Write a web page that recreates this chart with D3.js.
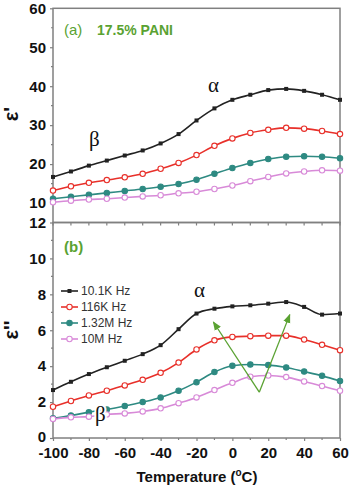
<!DOCTYPE html>
<html><head><meta charset="utf-8">
<script src="https://cdn.jsdelivr.net/npm/d3@7"></script>
<style>body{margin:0;background:#fff}svg{display:block}</style>
</head><body>
<svg id="c" width="350" height="488"></svg>
<script>
const temps = [-100,-90,-80,-70,-60,-50,-40,-30,-20,-10,0,10,20,30,40,50,60];
const seriesNames = ["10.1K Hz","116K Hz","1.32M Hz","10M Hz"];
// panel (a) epsilon'
const epsR_10k  = [16.7,18.1,19.6,20.9,22.2,23.5,25.3,27.7,31.2,34.3,36.5,37.8,39.0,39.3,38.8,37.8,36.5];
const epsR_116k = [13.2,14.3,15.2,15.9,16.6,17.5,18.8,20.3,22.3,24.7,26.6,28.0,28.8,29.3,29.1,28.5,27.7];
const epsR_132M = [11.1,11.6,12.1,12.6,13.1,13.6,14.2,14.9,16.0,17.5,19.0,20.3,21.3,21.9,22.0,21.9,21.5];
const epsR_10M  = [10.2,10.6,10.9,11.1,11.4,11.7,12.0,12.5,12.9,13.6,14.5,15.6,16.7,17.6,18.1,18.4,18.3];
// panel (b) epsilon''
const epsI_10k  = [2.67,3.13,3.56,3.94,4.30,4.67,5.17,6.06,6.93,7.20,7.33,7.39,7.48,7.57,7.30,6.87,6.93];
const epsI_116k = [1.74,2.06,2.37,2.63,2.93,3.24,3.63,4.20,4.93,5.44,5.63,5.67,5.70,5.70,5.48,5.19,4.89];
const epsI_132M = [1.10,1.25,1.44,1.59,1.78,2.00,2.26,2.63,3.11,3.67,4.02,4.09,4.06,3.93,3.70,3.46,3.17];
const epsI_10M  = [1.06,1.15,1.19,1.31,1.37,1.48,1.65,1.94,2.26,2.67,3.07,3.41,3.48,3.39,3.15,2.89,2.63];
const xTicks = [-100,-80,-60,-40,-20,0,20,40,60];
const yTicksA = [10,20,30,40,50,60];
const yTicksB = [0,2,4,6,8,10,12];
// arrows (temperature, eps'')
const arrowBase = [15,2.55];
const arrowTips = [[-10.6,6.46],[32,6.87]];

const colors = ["#222222","#e8302a","#2e8a82","#d88ad8"];
const styles = [
  {shape:"square", fill:"#222"},
  {shape:"circle", fill:"#fff"},
  {shape:"circle", fill:"#2e8a82"},
  {shape:"circle", fill:"#fff"}
];

const svg = d3.select("#c");
const L = 53, R = 340, TA = 8.3, MID = 222.5, BB = 438;
const x = d3.scaleLinear().domain([-100,60]).range([L,R]);
const yA = d3.scaleLinear().domain([5,60]).range([MID,TA]);
const yB = d3.scaleLinear().domain([0,12]).range([BB,MID]);
const frameCol = "#808080";
const font = "Arial, 'Liberation Sans', sans-serif";

// frames
svg.append("rect").attr("x",L).attr("y",TA).attr("width",R-L).attr("height",MID-TA)
  .attr("fill","none").attr("stroke",frameCol).attr("stroke-width",1.5);
svg.append("rect").attr("x",L).attr("y",MID).attr("width",R-L).attr("height",BB-MID)
  .attr("fill","none").attr("stroke",frameCol).attr("stroke-width",1.5);

// y axes
function yAxis(scale, ticks, minors){
  const g = svg.append("g").attr("transform",`translate(${L},0)`);
  g.call(d3.axisLeft(scale).tickValues(ticks).tickSize(3).tickPadding(4))
   .call(s=>s.select(".domain").remove());
  g.selectAll(".tick line").attr("stroke",frameCol).attr("stroke-width",1.2);
  g.selectAll(".tick text").attr("font-family",font).attr("font-weight","bold")
   .attr("font-size",15).attr("fill","#111");
  minors.forEach(v=>g.append("line").attr("x1",-2).attr("x2",0)
    .attr("y1",scale(v)).attr("y2",scale(v)).attr("stroke",frameCol).attr("stroke-width",1.2));
  return g;
}
yAxis(yA, yTicksA, [15,25,35,45,55]);
const gyb = yAxis(yB, yTicksB, [1,3,5,7,9,11]);
gyb.selectAll(".tick text").filter(d=>d===0).attr("dy","0.2em");

// bottom x axis
const gx = svg.append("g").attr("transform",`translate(0,${BB})`);
gx.call(d3.axisBottom(x).tickValues(xTicks).tickFormat(d=>String(d)).tickSize(3).tickPadding(6))
  .call(s=>s.select(".domain").remove());
gx.selectAll(".tick line").attr("stroke",frameCol).attr("stroke-width",1.2);
gx.selectAll(".tick text").attr("font-family",font).attr("font-weight","bold")
  .attr("font-size",15).attr("fill","#111");
d3.range(-90,60,20).forEach(v=>gx.append("line").attr("x1",x(v)).attr("x2",x(v))
  .attr("y1",0).attr("y2",2).attr("stroke",frameCol).attr("stroke-width",1.2));
// ticks on the shared middle line
d3.range(-100,61,10).forEach(v=>svg.append("line").attr("x1",x(v)).attr("x2",x(v))
  .attr("y1",MID).attr("y2",MID+3).attr("stroke",frameCol).attr("stroke-width",1.2));

// series
function drawSeries(ys, yScale){
  ys.forEach((vals,i)=>{
    const pts = temps.map((t,j)=>[x(t), yScale(vals[j])]);
    svg.append("path").attr("d", d3.line().curve(d3.curveMonotoneX)(pts))
      .attr("fill","none").attr("stroke",colors[i]).attr("stroke-width",1.6);
    const st = styles[i];
    pts.forEach(p=>{
      if(st.shape==="square"){
        svg.append("rect").attr("x",p[0]-2).attr("y",p[1]-2).attr("width",4).attr("height",4)
          .attr("fill",st.fill);
      } else {
        svg.append("circle").attr("cx",p[0]).attr("cy",p[1]).attr("r",2.7)
          .attr("fill",st.fill).attr("stroke",colors[i]).attr("stroke-width",1.1);
      }
    });
  });
}
drawSeries([epsR_10k,epsR_116k,epsR_132M,epsR_10M], yA);
drawSeries([epsI_10k,epsI_116k,epsI_132M,epsI_10M], yB);

// greek labels
const serif = "'Liberation Serif','DejaVu Serif',serif";
function greek(t,px,py){
  svg.append("text").attr("x",px).attr("y",py).text(t)
    .attr("font-family",serif).attr("font-size",21).attr("fill","#111")
    .attr("stroke","#fff").attr("stroke-width",4).attr("paint-order","stroke");
}
greek("α",208,92);
greek("β",89,146);
greek("α",194,297);
greek("β",95,421);

// arrows
const green = "#5aa232";
svg.append("defs").append("marker").attr("id","ah").attr("viewBox","0 0 10 10")
  .attr("refX",9).attr("refY",5).attr("markerWidth",7).attr("markerHeight",7)
  .attr("orient","auto").append("path").attr("d","M0,1 L10,5 L0,9 Z").attr("fill",green);
arrowTips.forEach(tp=>{
  svg.append("line").attr("x1",x(arrowBase[0])).attr("y1",yB(arrowBase[1]))
    .attr("x2",x(tp[0])).attr("y2",yB(tp[1])).attr("stroke",green).attr("stroke-width",1.3)
    .attr("marker-end","url(#ah)");
});

// panel labels
svg.append("text").attr("x",64).attr("y",35).text("(a)").attr("font-family",font)
  .attr("font-size",15).attr("fill",green);
svg.append("text").attr("x",97).attr("y",35).text("17.5% PANI").attr("font-family",font)
  .attr("font-size",14).attr("font-weight","bold").attr("fill",green);
svg.append("text").attr("x",64).attr("y",252).text("(b)").attr("font-family",font)
  .attr("font-size",15).attr("font-weight","bold").attr("fill",green);

// legend
seriesNames.forEach((n,i)=>{
  const ly = 291 + i*16;
  svg.append("line").attr("x1",61).attr("x2",78).attr("y1",ly).attr("y2",ly)
    .attr("stroke",colors[i]).attr("stroke-width",1.6);
  const st = styles[i];
  if(st.shape==="square"){
    svg.append("rect").attr("x",67.5).attr("y",ly-2).attr("width",4).attr("height",4).attr("fill",st.fill);
  } else {
    svg.append("circle").attr("cx",69.5).attr("cy",ly).attr("r",2.7).attr("fill",st.fill)
      .attr("stroke",colors[i]).attr("stroke-width",1.1);
  }
  svg.append("text").attr("x",81).attr("y",ly+4).text(n).attr("font-family",font)
    .attr("font-size",12).attr("fill","#333");
});

// axis titles
svg.append("text").attr("transform","translate(18,114) rotate(-90)").attr("text-anchor","middle")
  .text("ε'").attr("font-family",font).attr("font-weight","bold").attr("font-size",20).attr("fill","#111");
svg.append("text").attr("transform","translate(18,330) rotate(-90)").attr("text-anchor","middle")
  .text("ε''").attr("font-family",font).attr("font-weight","bold").attr("font-size",20).attr("fill","#111");
const xt = svg.append("text").attr("x",197).attr("y",482).attr("text-anchor","middle")
  .attr("font-family",font).attr("font-weight","bold").attr("font-size",15).attr("fill","#111");
xt.append("tspan").text("Temperature (");
xt.append("tspan").text("o").attr("font-size",10).attr("dy",-6);
xt.append("tspan").text("C)").attr("dy",6);
</script>
</body></html>
